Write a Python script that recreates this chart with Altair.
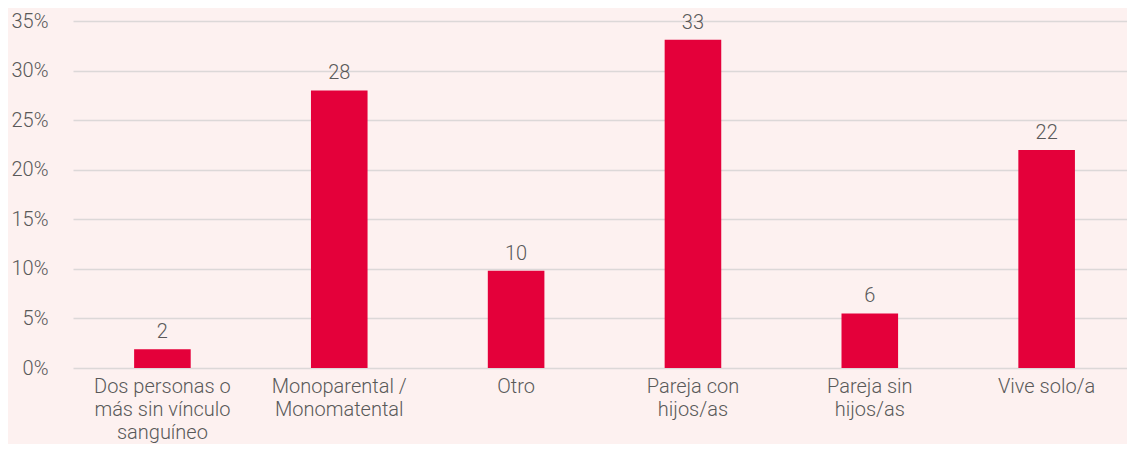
import altair as alt
import pandas as pd

categories = [
    "Dos personas o más sin vínculo sanguíneo",
    "Monoparental / Monomatental",
    "Otro",
    "Pareja con hijos/as",
    "Pareja sin hijos/as",
    "Vive solo/a",
]
label_lines = [
    ["Dos personas o", "más sin vínculo", "sanguíneo"],
    ["Monoparental /", "Monomatental"],
    ["Otro"],
    ["Pareja con", "hijos/as"],
    ["Pareja sin", "hijos/as"],
    ["Vive solo/a"],
]
values = [1.9, 28.0, 9.8, 33.1, 5.5, 22.0]
value_labels = ["2", "28", "10", "33", "6", "22"]
y_ticks = [0, 5, 10, 15, 20, 25, 30, 35]

df = pd.DataFrame({"cat": categories, "val": values, "lab": value_labels})

# label expression mapping categories to multi-line labels
parts = []
for c, lines in zip(categories, label_lines):
    arr = "[" + ",".join("'" + l + "'" for l in lines) + "]"
    parts.append(f"datum.value == '{c}' ? {arr}")
label_expr = " : ".join(parts) + " : datum.value"

FONT = "Roboto"
TXT = "#595959"
BAR = "#e4003a"
BG = "#fdf1f0"

x = alt.X(
    "cat:N",
    sort=categories,
    title=None,
    scale=alt.Scale(paddingInner=0.68, paddingOuter=0.32, align=0.54),
    axis=alt.Axis(
        labelAngle=0,
        labelExpr=label_expr,
        labelFont=FONT,
        labelFontSize=20,
        labelFontWeight=300,
        labelColor=TXT,
        labelPadding=8,
        labelLineHeight=23,
        labelBaseline="top",
        ticks=False,
        domain=False,
        grid=False,
    ),
)
y = alt.Y(
    "val:Q",
    title=None,
    scale=alt.Scale(domain=[0, 35], nice=False),
    axis=alt.Axis(
        values=y_ticks,
        labelExpr="datum.value + '%'",
        labelFont=FONT,
        labelFontSize=20,
        labelFontWeight=300,
        labelColor=TXT,
        labelPadding=25,
        ticks=False,
        domain=False,
        grid=True,
        gridColor="#dcd8d8",
        gridWidth=1.5,
    ),
)

bars = alt.Chart(df).mark_bar(color=BAR).encode(x=x, y=y)
text = alt.Chart(df).mark_text(
    baseline="bottom", dy=-7, font=FONT, fontSize=20, fontWeight=300, color=TXT
).encode(x=alt.X("cat:N", sort=categories), y="val:Q", text="lab:N")

chart = (
    alt.layer(bars, text)
    .properties(
        width=1054,
        height=347,
        background=BG,
        padding={"left": 65, "top": 13, "right": 0, "bottom": 76},
        autosize=alt.AutoSizeParams(type="none"),
    )
    .configure_view(stroke=None)
)

chart.save("out.html", embed_options={"renderer": "svg", "actions": False})
